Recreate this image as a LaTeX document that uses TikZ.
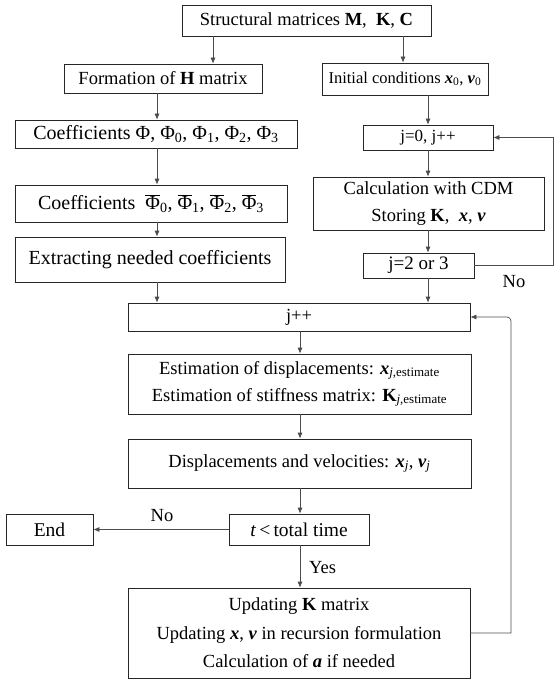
\documentclass[tikz,border=0pt]{standalone}
\usepackage{fontspec}
\setmainfont{Liberation Serif}
\usetikzlibrary{arrows.meta}
\newcommand{\bx}[1]{\textbf{\textit{#1}}}
\newcommand{\sbs}[1]{\textsubscript{#1}}
\newcommand{\phibar}{$\overline{\mbox{Φ}}$}
\newcommand{\fs}[1]{\fontsize{#1}{27}\selectfont}
\begin{document}
\begin{tikzpicture}[x=1pt,y=-1pt,
  bxs/.style={draw=black!85, line width=0.7pt, inner sep=0pt, align=center,
    font=\fs{18.5}},
  arr/.style={draw=black!70, line width=0.7pt, -{Latex[length=6pt,width=5pt]}},
  lbl/.style={font=\fs{18.5}, inner sep=0pt}]
\useasboundingbox (0,0) rectangle (554,682);
% columns
\coordinate (cL) at (157,0);
\coordinate (cT) at (213,0);
\coordinate (cR1) at (403,0);
\coordinate (cR2) at (428,0);
\coordinate (cM) at (300,0);
% nodes
\node[bxs, minimum width=249, minimum height=31] (top) at (306.5,20.5) {Structural matrices \textbf{M},\ \ \textbf{K}, \textbf{C}};
\node[bxs, minimum width=198, minimum height=29] (form) at (163,78.5) {Formation of \textbf{H} matrix};
\node[bxs, minimum width=282, minimum height=28, font=\fs{20}] (coef1) at (156,134) {Coefficients Φ, Φ\sbs{0}, Φ\sbs{1}, Φ\sbs{2}, Φ\sbs{3}};
\node[bxs, minimum width=272, minimum height=37, font=\fs{20}] (coef2) at (151,203.5) {Coefficients \ \phibar\sbs{0}, \phibar\sbs{1}, \phibar\sbs{2}, \phibar\sbs{3}};
\node[bxs, minimum width=270, minimum height=45, font=\fs{20}] (extr) at (150,259.5) {Extracting needed coefficients};
\node[bxs, minimum width=166, minimum height=32, font=\fs{16.5}] (init) at (405,79) {Initial conditions \bx{x}\sbs{0}, \bx{v}\sbs{0}};
\node[bxs, minimum width=130, minimum height=25, font=\fs{17}] (j0) at (428,137.5) {j=0, j++};
\node[bxs, minimum width=231, minimum height=53] (cdm) at (428.5,203.5) {Calculation with CDM\\Storing \textbf{K},\ \ \bx{x}, \bx{v}};
\node[bxs, minimum width=111, minimum height=25, font=\fs{19}] (j23) at (418.5,265.5) {j=2 or 3};
\node[bxs, minimum width=342, minimum height=28] (jpp) at (299,317) {j++};
\node[bxs, minimum width=343, minimum height=60] (est) at (299.5,384) {Estimation of displacements: \bx{x}\sbs{\textit{j},estimate}\\Estimation of stiffness matrix: \textbf{K}\sbs{\textit{j},estimate}};
\node[bxs, minimum width=343, minimum height=49] (disp) at (299.5,463.5) {Displacements and velocities: \bx{x}\sbs{\textit{j}}, \bx{v}\sbs{\textit{j}}};
\node[bxs, minimum width=140, minimum height=31, font=\fs{19.5}] (tt) at (299,529.5) {\textit{t}\,<\,total time};
\node[bxs, minimum width=87, minimum height=31, font=\fs{19.5}] (end) at (49.5,529.5) {End};
\node[bxs, minimum width=342, minimum height=90, font=\fontsize{18.5}{28.5}\selectfont] (upd) at (299,633) {Updating \textbf{K} matrix\\Updating \bx{x}, \bx{v} in recursion formulation\\Calculation of \bx{a} if needed};
% loop coordinates
\coordinate (rA) at (553,0);
\coordinate (rB) at (511,0);
% connectors
\draw[arr] (top.south -| cT) -- (form.north -| cT);
\draw[arr] (top.south -| cR1) -- (init.north -| cR1);
\draw[arr] (form.south -| cL) -- (coef1.north -| cL);
\draw[arr] (coef1.south -| cL) -- (coef2.north -| cL);
\draw[arr] (coef2.south -| cL) -- (extr.north -| cL);
\draw[arr] (extr.south -| cL) -- (jpp.north -| cL);
\draw[arr] (init.south -| cR2) -- (j0.north -| cR2);
\draw[arr] (j0.south -| cR2) -- (cdm.north -| cR2);
\draw[arr] (cdm.south -| cR2) -- (j23.north -| cR2);
\draw[arr] (j23.south -| cR2) -- (jpp.north -| cR2);
\draw[arr] (j23.east) -- (j23.east -| rA) -- (j0.east -| rA) -- (j0.east);
\node[lbl] (no1) at (514,282) {No};
\draw[arr] (jpp.south -| cM) -- (est.north -| cM);
\draw[arr] (est.south -| cM) -- (disp.north -| cM);
\draw[arr] (disp.south -| cM) -- (tt.north -| cM);
\draw[arr] (tt.south -| cM) -- (upd.north -| cM);
\node[lbl, anchor=west] (yes) at (309,568) {Yes};
\draw[arr] (tt.west) -- (end.east);
\node[lbl] (no2) at (162,516) {No};
\draw[arr] (upd.east) -- (upd.east -| rB) [rounded corners=4pt] -- (jpp.east -| rB) -- (jpp.east);
\end{tikzpicture}
\end{document}
